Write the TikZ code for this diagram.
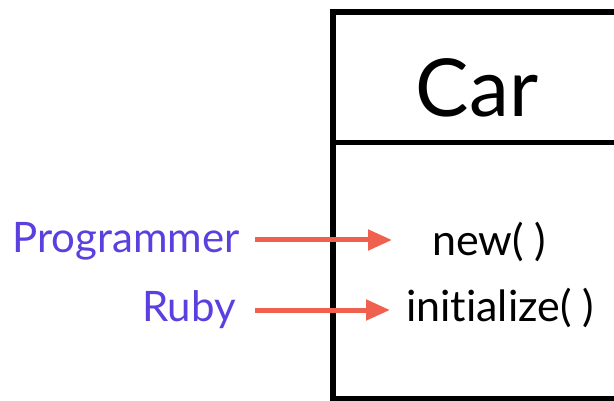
\documentclass[tikz,border=0pt]{standalone}
\usepackage{fontspec}
\setmainfont{Lato}[Ligatures={NoCommon}]
\usetikzlibrary{arrows.meta}
\definecolor{callerpurple}{HTML}{5B3FDF}
\definecolor{callarrow}{HTML}{F0604F}
\tikzset{
  classframe/.style={line width=6.5pt, black},
  caller/.style={anchor=base east, inner sep=0pt, text=callerpurple, font=\fontsize{42}{42}\selectfont},
  method/.style={anchor=base west, inner sep=0pt, text=black, font=\fontsize{43}{43}\selectfont},
  callline/.style={line width=5pt, callarrow, -{Triangle[length=24pt, width=20pt]}}
}
\begin{document}
\begin{tikzpicture}[x=1pt, y=-1pt]
  \useasboundingbox (0,0) rectangle (614,401);
  \begin{scope}
    \clip (0,0) rectangle (614,401);
    % class box, open to the right
    \draw[classframe] (640,12) -- (333,12) -- (333,399) -- (640,399);
    \draw[classframe, line width=5pt] (333,143) -- (640,143);
  \end{scope}
  % class name and methods
  \node[anchor=base, inner sep=0pt, font=\fontsize{80}{80}\selectfont] (car) at (477,117) {Car};
  \node[method] (new) at (432,255) {new( )};
  \node[method] (init) at (406,322) {initialize( )};
  % callers
  \node[caller] (prog) at (240,253) {Programmer};
  \node[caller] (ruby) at (236,322) {Ruby};
  \coordinate (a1) at (255,240);
  \coordinate (b1) at (392,240);
  \coordinate (a2) at (255,310);
  \coordinate (b2) at (390,310);
  \draw[callline] (a1) -- (b1);
  \draw[callline] (a2) -- (b2);
\end{tikzpicture}
\end{document}
